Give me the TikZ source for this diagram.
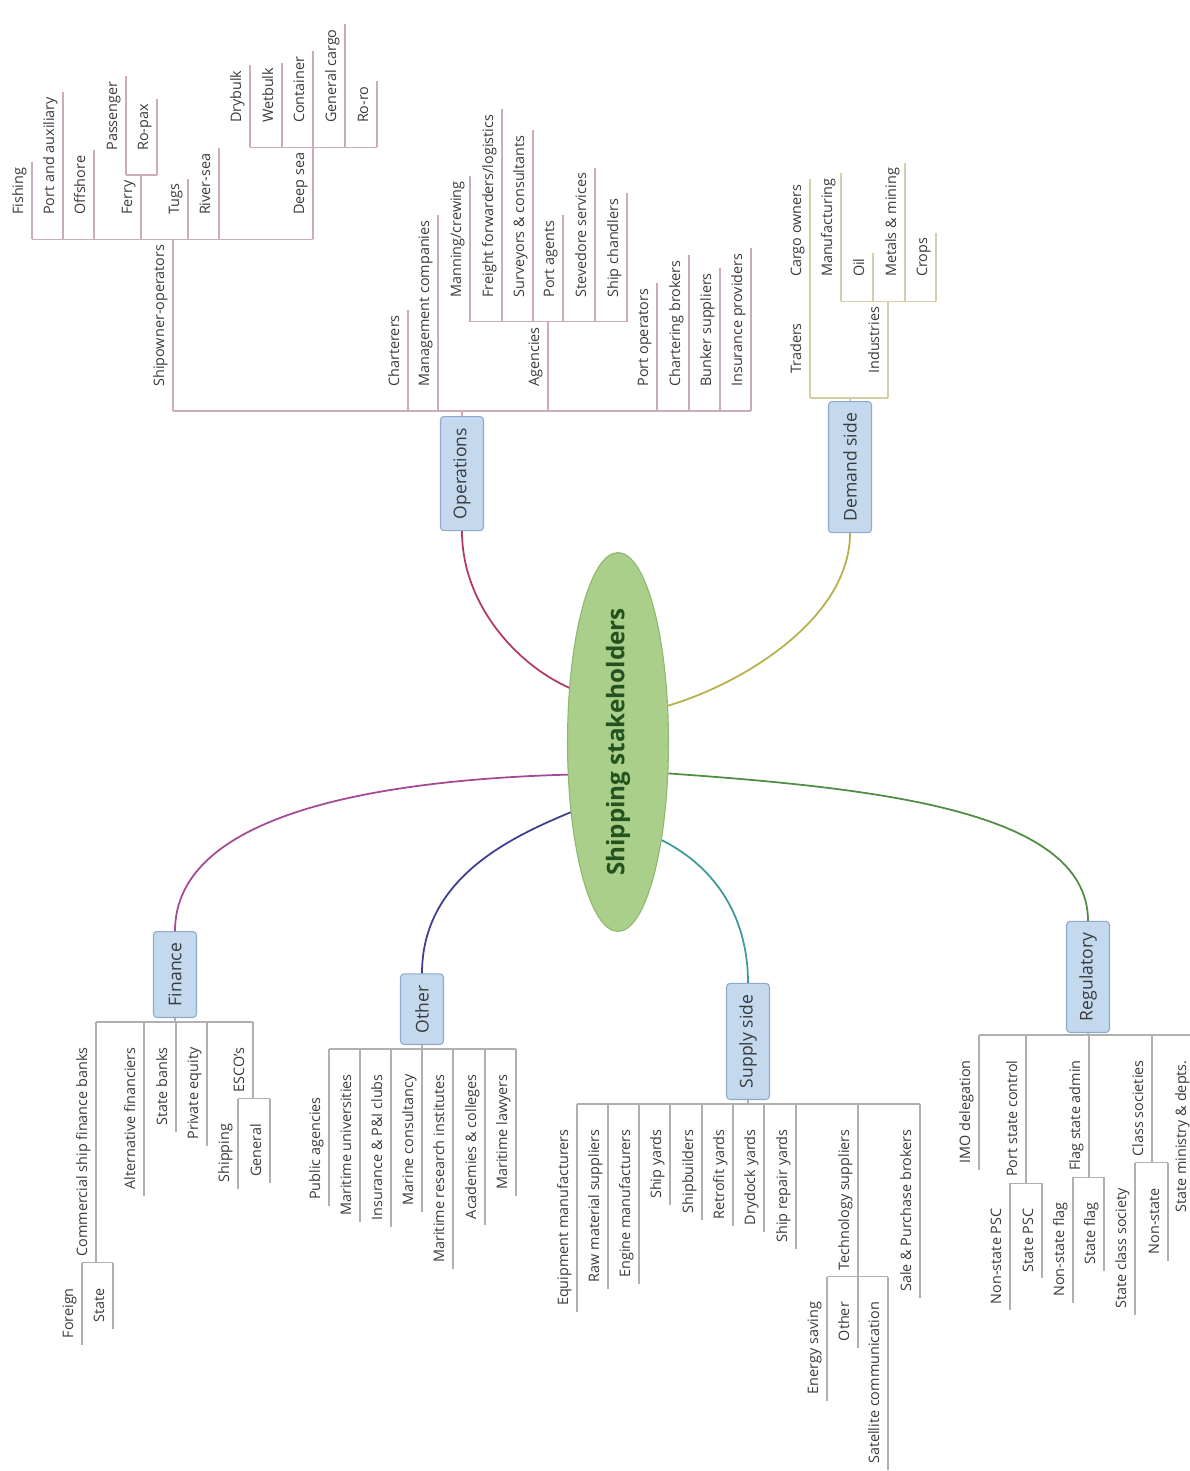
\documentclass[tikz,border=0pt]{standalone}
\usepackage{fontspec}
\setmainfont{Open Sans}
\usetikzlibrary{shapes.geometric,calc}

\definecolor{hubfill}{HTML}{A9CF8A}
\definecolor{hubdraw}{HTML}{8DB76E}
\definecolor{hubtext}{HTML}{24521F}
\definecolor{boxfill}{HTML}{C4D9EE}
\definecolor{boxdraw}{HTML}{8EA9CA}
\definecolor{leaftext}{HTML}{3A3A3A}
\definecolor{opsline}{HTML}{CDADB3}
\definecolor{demline}{HTML}{D6CFA6}
\definecolor{greyline}{HTML}{B0B0B0}
\definecolor{opscurve}{HTML}{B23A5C}
\definecolor{demcurve}{HTML}{B5B04A}
\definecolor{fincurve}{HTML}{A54896}
\definecolor{othcurve}{HTML}{3E3E8E}
\definecolor{supcurve}{HTML}{3C9A9C}
\definecolor{regcurve}{HTML}{4E8E42}

\tikzset{
  hub/.style={ellipse, rotate=90, fill=hubfill, draw=hubdraw, line width=0.6pt,
    minimum width=6.64cm, minimum height=2.02cm, inner sep=0pt,
    font=\fontsize{13.8}{16}\selectfont\bfseries, text=hubtext},
  topic/.style={rotate=90, rectangle, rounded corners=2pt, fill=boxfill, draw=boxdraw,
    line width=0.6pt, minimum height=0.86cm, inner xsep=6.5pt,
    font=\fontsize{10}{12}\selectfont, text=leaftext},
  leaf/.style={rotate=90, inner xsep=0pt, inner ysep=3pt, text height=6.2pt, text depth=1.8pt,
    font=\fontsize{8.2}{10}\selectfont, text=leaftext},
  upleaf/.style={leaf, anchor=south west,
    append after command={($(\tikzlastnode.south west)+(0,24)$) edge[stem] ($(\tikzlastnode.south east)+(0,-5)$)}},
  downleaf/.style={leaf, anchor=south east,
    append after command={($(\tikzlastnode.south east)+(0,-25)$) edge[stem] ($(\tikzlastnode.south west)+(0,6)$)}},
  stem/.style={draw=greyline, line width=0.6pt},
  curve/.style={line width=1pt},
}

\begin{document}
\begin{tikzpicture}[x=0.02cm,y=-0.02cm]
  \useasboundingbox (0,0) rectangle (1190,1471);

  % Centre and main topics
  \node[hub] (hub) at (618,742) {Shipping stakeholders};
  \node[topic, anchor=east] (ops) at (462,416) {Operations};
  \node[topic, anchor=east] (dem) at (850,401) {Demand side};
  \node[topic, anchor=west] (fin) at (175,1018) {Finance};
  \node[topic, anchor=west] (oth) at (422,1045) {Other};
  \node[topic, anchor=west] (sup) at (748,1100) {Supply side};
  \node[topic, anchor=west] (reg) at (1088,1033) {Regulatory};

  % Curves from the centre
  \draw[curve, draw=opscurve] (hub.42) .. controls ($(hub.42)+(-50,-22)$) and ($(ops.west)+(0,75)$) .. (ops.west);
  \draw[curve, draw=demcurve] (hub.306.5) .. controls ($(hub.306.5)+(75,-22)$) and ($(dem.west)+(0,85)$) .. (dem.west);
  \draw[curve, draw=fincurve] (hub.123) .. controls ($(hub.123)+(-180,5)$) and ($(fin.east)+(0,-120)$) .. (fin.east);
  \draw[curve, draw=othcurve] (hub.146) .. controls ($(hub.146)+(-60,25)$) and ($(oth.east)+(0,-95)$) .. (oth.east);
  \draw[curve, draw=supcurve] (hub.204) .. controls ($(hub.204)+(50,25)$) and ($(sup.east)+(0,-70)$) .. (sup.east);
  \draw[curve, draw=regcurve] (hub.238.2) .. controls ($(hub.238.2)+(212,15)$) and ($(reg.east)+(0,-110)$) .. (reg.east);

  % Operations
  \begin{scope}[stem/.style={draw=opsline, line width=0.6pt}]
    \node[upleaf] (shipop) at (173,387) {Shipowner-operators};
    \node[upleaf] (charter) at (408,387) {Charterers};
    \node[upleaf] (mgmt) at (438,387) {Management companies};
    \node[upleaf] (agency) at (548,387) {Agencies};
    \node[upleaf] (portop) at (657,387) {Port operators};
    \node[upleaf] (chbroker) at (689,387) {Chartering brokers};
    \node[upleaf] (bunker) at (720,387) {Bunker suppliers};
    \node[upleaf] (insprov) at (751,387) {Insurance providers};
    \draw[stem] ($(shipop.south west)+(0,24)$) -- ($(insprov.south west)+(0,24)$);
    \draw[stem] (ops.east) -- ($(ops.east |- shipop.south west)+(0,24)$);

    % Shipowner-operators
    \node[upleaf] (fishing) at ($(shipop.south east)+(-141,-29)$) {Fishing};
    \node[upleaf] (portaux) at ($(shipop.south east)+(-110,-29)$) {Port and auxiliary};
    \node[upleaf] (offshore) at ($(shipop.south east)+(-79,-29)$) {Offshore};
    \node[upleaf] (ferry) at ($(shipop.south east)+(-32,-29)$) {Ferry};
    \node[upleaf] (tugs) at ($(shipop.south east)+(15,-29)$) {Tugs};
    \node[upleaf] (riversea) at ($(shipop.south east)+(46,-29)$) {River-sea};
    \node[upleaf] (deepsea) at ($(shipop.south east)+(140,-29)$) {Deep sea};
    \draw[stem] ($(fishing.south west)+(0,24)$) -- ($(deepsea.south west)+(0,24)$);

    \node[upleaf] (passenger) at ($(ferry.south east)+(-15,-29)$) {Passenger};
    \node[upleaf] (ropax) at ($(ferry.south east)+(16,-29)$) {Ro-pax};
    \draw[stem] ($(passenger.south west)+(0,24)$) -- ($(ropax.south west)+(0,24)$);

    \node[upleaf] (drybulk) at ($(deepsea.south east)+(-63,-29)$) {Drybulk};
    \node[upleaf] (wetbulk) at ($(deepsea.south east)+(-31,-29)$) {Wetbulk};
    \node[upleaf] (container) at ($(deepsea.south east)+(0,-29)$) {Container};
    \node[upleaf] (gencargo) at ($(deepsea.south east)+(32,-29)$) {General cargo};
    \node[upleaf] (roro) at ($(deepsea.south east)+(64,-29)$) {Ro-ro};
    \draw[stem] ($(drybulk.south west)+(0,24)$) -- ($(roro.south west)+(0,24)$);

    % Agencies
    \node[upleaf] (manning) at ($(agency.south east)+(-78,-29)$) {Manning/crewing};
    \node[upleaf] (freight) at ($(agency.south east)+(-46,-29)$) {Freight forwarders/logistics};
    \node[upleaf] (surveyor) at ($(agency.south east)+(-15,-29)$) {Surveyors \& consultants};
    \node[upleaf] (portagent) at ($(agency.south east)+(15,-29)$) {Port agents};
    \node[upleaf] (stevedore) at ($(agency.south east)+(47,-29)$) {Stevedore services};
    \node[upleaf] (chandler) at ($(agency.south east)+(79,-29)$) {Ship chandlers};
    \draw[stem] ($(manning.south west)+(0,24)$) -- ($(chandler.south west)+(0,24)$);
  \end{scope}

  % Demand side
  \begin{scope}[stem/.style={draw=demline, line width=0.6pt}]
    \node[upleaf] (traders) at (810,374) {Traders};
    \node[upleaf] (industry) at (888,374) {Industries};
    \draw[stem] ($(traders.south west)+(0,24)$) -- ($(industry.south west)+(0,24)$);
    \draw[stem] (dem.east) -- ($(dem.east |- traders.south west)+(0,24)$);

    \node[upleaf] (manuf) at ($(industry.south east)+(-47,-29)$) {Manufacturing};
    \node[upleaf] (oil) at ($(industry.south east)+(-15,-29)$) {Oil};
    \node[upleaf] (metals) at ($(industry.south east)+(17,-29)$) {Metals \& mining};
    \node[upleaf] (crops) at ($(industry.south east)+(48,-29)$) {Crops};
    \draw[stem] ($(manuf.south west)+(0,24)$) -- ($(crops.south west)+(0,24)$);

    \node[upleaf] (cargo) at (traders.south west |- oil.south west) {Cargo owners};
    \draw[stem] (traders.south east) -- ($(cargo.south west)+(0,24)$);
  \end{scope}

  % Finance
  \node[downleaf] (csfb) at (96,1047) {Commercial ship finance banks};
  \node[downleaf] (altfin) at (144,1047) {Alternative financiers};
  \node[downleaf] (statebank) at (176,1047) {State banks};
  \node[downleaf] (privequity) at (207,1047) {Private equity};
  \node[downleaf] (escos) at (253,1047) {ESCO's};
  \draw[stem] ($(csfb.south east)+(0,-25)$) -- ($(escos.south east)+(0,-25)$);
  \draw[stem] (fin.west) -- ($(fin.west |- csfb.south east)+(0,-25)$);

  \node[downleaf] (foreign) at ($(csfb.south west)+(-14,31)$) {Foreign};
  \node[downleaf] (statefin) at ($(csfb.south west)+(17,31)$) {State};
  \draw[stem] ($(foreign.south east)+(0,-25)$) -- ($(statefin.south east)+(0,-25)$);

  \node[downleaf] (shipfin) at ($(escos.south west)+(-15,31)$) {Shipping};
  \node[downleaf] (general) at ($(escos.south west)+(17,31)$) {General};
  \draw[stem] ($(shipfin.south east)+(0,-25)$) -- ($(general.south east)+(0,-25)$);

  % Other
  \node[downleaf] (pubag) at (329,1097) {Public agencies};
  \node[downleaf] (maruni) at (360,1074) {Maritime universities};
  \node[downleaf] (inspi) at (391,1074) {Insurance \& P\&I clubs};
  \node[downleaf] (marcons) at (422,1074) {Marine consultancy};
  \node[downleaf] (marres) at (453,1074) {Maritime research institutes};
  \node[downleaf] (academy) at (485,1074) {Academies \& colleges};
  \node[downleaf] (lawyers) at (516,1074) {Maritime lawyers};
  \draw[stem] ($(pubag.south east |- maruni.south east)+(0,-25)$) -- ($(lawyers.south east)+(0,-25)$);
  \draw[stem] (pubag.south east) -- ($(pubag.south east |- maruni.south east)+(0,-25)$);
  \draw[stem] (oth.west) -- ($(oth.west |- maruni.south east)+(0,-25)$);

  % Supply side
  \node[downleaf] (equip) at (577,1129) {Equipment manufacturers};
  \node[downleaf] (rawmat) at (608,1129) {Raw material suppliers};
  \node[downleaf] (engine) at (639,1129) {Engine manufacturers};
  \node[downleaf] (shipyard) at (670,1129) {Ship yards};
  \node[downleaf] (shipbuild) at (702,1129) {Shipbuilders};
  \node[downleaf] (retrofit) at (733,1129) {Retrofit yards};
  \node[downleaf] (drydock) at (764,1129) {Drydock yards};
  \node[downleaf] (repair) at (796,1129) {Ship repair yards};
  \node[downleaf] (techsup) at (858,1129) {Technology suppliers};
  \node[downleaf] (salepur) at (920,1129) {Sale \& Purchase brokers};
  \draw[stem] ($(equip.south east)+(0,-25)$) -- ($(salepur.south east)+(0,-25)$);
  \draw[stem] (sup.west) -- ($(sup.west |- equip.south east)+(0,-25)$);

  \node[downleaf] (energy) at ($(techsup.south west)+(-31,31)$) {Energy saving};
  \node[downleaf] (othtech) at ($(techsup.south west)+(0,31)$) {Other};
  \node[downleaf] (satcom) at ($(techsup.south west)+(30,31)$) {Satellite communication};
  \draw[stem] ($(energy.south east)+(0,-25)$) -- ($(satcom.south east)+(0,-25)$);

  % Regulatory
  \node[downleaf] (imo) at (979,1060) {IMO delegation};
  \node[downleaf] (psc) at (1026,1060) {Port state control};
  \node[downleaf] (flag) at (1089,1060) {Flag state admin};
  \node[downleaf] (classsoc) at (1152,1060) {Class societies};
  \node[downleaf] (ministry) at (1195,1060) {State ministry \& depts.};
  \draw[stem] ($(imo.south east)+(0,-25)$) -- ($(ministry.south east)+(0,-25)$);
  \draw[stem] (reg.west) -- ($(reg.west |- imo.south east)+(0,-25)$);

  \node[downleaf] (nonpsc) at ($(psc.south west)+(-16,31)$) {Non-state PSC};
  \node[downleaf] (statepsc) at ($(psc.south west)+(16,31)$) {State PSC};
  \draw[stem] ($(nonpsc.south east)+(0,-25)$) -- ($(statepsc.south east)+(0,-25)$);

  \node[downleaf] (nonflag) at ($(flag.south west)+(-16,31)$) {Non-state flag};
  \node[downleaf] (stateflag) at ($(flag.south west)+(15,31)$) {State flag};
  \draw[stem] ($(nonflag.south east)+(0,-25)$) -- ($(stateflag.south east)+(0,-25)$);

  \node[downleaf] (stateclass) at ($(classsoc.south west)+(-17,31)$) {State class society};
  \node[downleaf] (nonstate) at ($(classsoc.south west)+(16,31)$) {Non-state};
  \draw[stem] ($(stateclass.south east)+(0,-25)$) -- ($(nonstate.south east)+(0,-25)$);
\end{tikzpicture}
\end{document}
